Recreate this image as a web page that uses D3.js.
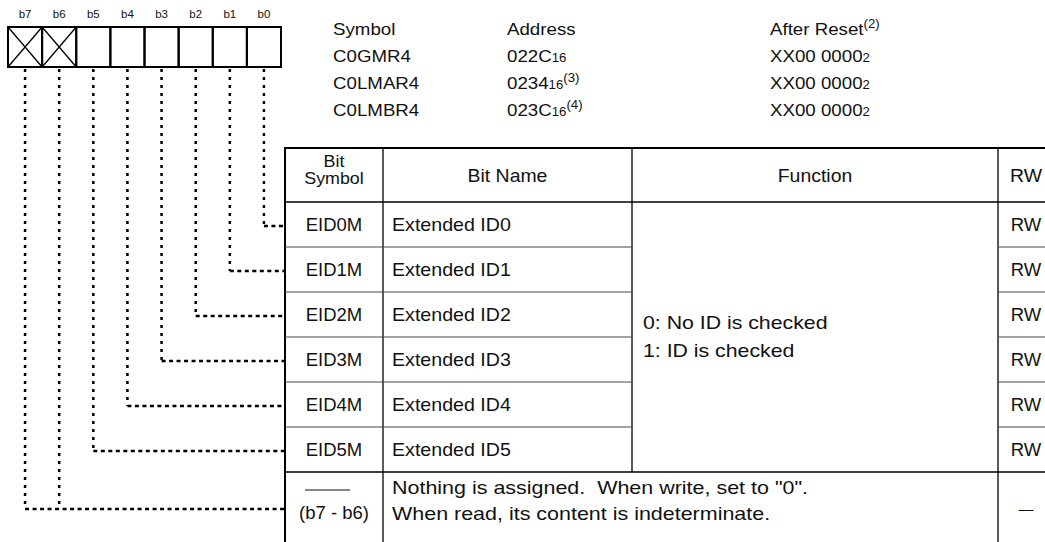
<!DOCTYPE html>
<html><head><meta charset="utf-8">
<script src="https://cdn.jsdelivr.net/npm/d3@7/dist/d3.min.js"></script>
<style>
html,body{margin:0;padding:0;background:#fff;}
svg{display:block;}
text{font-family:"Liberation Sans",Arial,sans-serif;fill:#111;white-space:pre;}
</style></head>
<body><svg id="c" width="1045" height="542"></svg>
<script>
// ---- data ----
const bitLabels = ["b7","b6","b5","b4","b3","b2","b1","b0"];
const reservedBits = ["b7","b6"];
const regSymbols = ["C0GMR4","C0LMAR4","C0LMBR4"];
const regAddrBase = ["022C","0234","023C"];
const regAddrNote = ["","(3)","(4)"];
const regReset = ["XX00 0000","XX00 0000","XX00 0000"];
const infoHeaders = ["Symbol","Address","After Reset"];
const tableHeaders = ["Bit Name","Function","RW"];
const bitSymbols = ["EID0M","EID1M","EID2M","EID3M","EID4M","EID5M"];
const bitOfRow = ["b0","b1","b2","b3","b4","b5"];
const bitNames = ["Extended ID0","Extended ID1","Extended ID2","Extended ID3","Extended ID4","Extended ID5"];
const rwValues = ["RW","RW","RW","RW","RW","RW"];
const functionLines = ["0: No ID is checked","1: ID is checked"];
const reservedSymbol = "(b7 - b6)";
const reservedText = ["Nothing is assigned.  When write, set to \"0\".","When read, its content is indeterminate."];
const reservedRW = "\u2014";

// ---- layout ----
const svg = d3.select("#c");
const xBit = d3.scaleBand().domain(bitLabels).range([8, 281]);
const boxTop = 27, boxBot = 67;
const rowIdx = d3.range(bitSymbols.length);
const yRow = d3.scaleBand().domain(rowIdx).range([202, 472]);
const tTop = 148, tHead = 202, tLast = 472, tBot = 542;
const cols = [285, 383, 632, 998, 1045];

// horizontal stretch helper (reference glyphs are a bit wider than Arial)
function stretch(sel, k) {
  sel.each(function() {
    const L = this.getComputedTextLength();
    d3.select(this).attr("textLength", L * k).attr("lengthAdjust", "spacingAndGlyphs");
  });
  return sel;
}

// bit labels
svg.append("g").selectAll("text").data(bitLabels).join("text")
  .attr("x", d => xBit(d) + xBit.bandwidth()/2).attr("y", 18)
  .attr("text-anchor","middle").attr("font-size", 11.5).text(d => d);

// bit boxes
const gb = svg.append("g").attr("stroke","#000").attr("fill","none");
gb.selectAll("rect").data(bitLabels).join("rect")
  .attr("x", d => xBit(d)).attr("y", boxTop)
  .attr("width", xBit.bandwidth()).attr("height", boxBot - boxTop)
  .attr("stroke-width", 2);
reservedBits.forEach(b => {
  const x0 = xBit(b), x1 = x0 + xBit.bandwidth();
  gb.append("line").attr("x1",x0).attr("y1",boxTop).attr("x2",x1).attr("y2",boxBot).attr("stroke-width",1.3);
  gb.append("line").attr("x1",x1).attr("y1",boxTop).attr("x2",x0).attr("y2",boxBot).attr("stroke-width",1.3);
});

// dashed leaders
const gl = svg.append("g").attr("stroke","#000").attr("fill","none").attr("stroke-width",2.5);
const bc = b => xBit(b) + xBit.bandwidth()/2;
bitOfRow.forEach((b, i) => {
  const y = yRow(i) + yRow.bandwidth()/2 + 1.5;
  gl.append("line").attr("x1",bc(b)).attr("y1",boxBot+2).attr("x2",bc(b)).attr("y2",y).attr("stroke-dasharray","3,5");
  gl.append("line").attr("x1",bc(b)).attr("y1",y).attr("x2",cols[0]).attr("y2",y).attr("stroke-dasharray","4,3.5");
});
const yRes = 509;
reservedBits.forEach(b => {
  gl.append("line").attr("x1",bc(b)).attr("y1",boxBot+2).attr("x2",bc(b)).attr("y2",yRes).attr("stroke-dasharray","3,5");
});
gl.append("line").attr("x1",bc(reservedBits[0])).attr("y1",yRes).attr("x2",cols[0]).attr("y2",yRes).attr("stroke-dasharray","4,3.5");

// info header block
const infoX = [333, 507, 770];
const infoY = [35, 62, 89, 116];
const gi = svg.append("g").attr("font-size", 17);
infoHeaders.forEach((h, j) => {
  const t = gi.append("text").attr("x", infoX[j]).attr("y", infoY[0]).text(h);
  if (j === 2) t.append("tspan").attr("font-size", 12).attr("dy", -7).text("(2)");
});
regSymbols.forEach((s, i) => {
  gi.append("text").attr("x", infoX[0]).attr("y", infoY[i+1]).text(s);
  const a = gi.append("text").attr("x", infoX[1]).attr("y", infoY[i+1]).text(regAddrBase[i]);
  a.append("tspan").attr("font-size", 12).text("16");
  if (regAddrNote[i]) a.append("tspan").attr("font-size", 12).attr("dy", -7).text(regAddrNote[i]);
  const r = gi.append("text").attr("x", infoX[2]).attr("y", infoY[i+1]).text(regReset[i]);
  r.append("tspan").attr("font-size", 12).text("2");
});
stretch(gi.selectAll("text"), 1.1);

// table lines
const gt = svg.append("g").attr("stroke","#000").attr("fill","none");
gt.append("line").attr("x1",cols[0]).attr("y1",tTop).attr("x2",cols[4]).attr("y2",tTop).attr("stroke-width",2);
gt.append("line").attr("x1",cols[0]).attr("y1",tTop-1).attr("x2",cols[0]).attr("y2",tBot).attr("stroke-width",2);
gt.append("line").attr("x1",cols[0]).attr("y1",tHead).attr("x2",cols[4]).attr("y2",tHead).attr("stroke-width",1.6);
gt.append("line").attr("x1",cols[1]).attr("y1",tTop).attr("x2",cols[1]).attr("y2",tBot).attr("stroke-width",1.3);
gt.append("line").attr("x1",cols[2]).attr("y1",tTop).attr("x2",cols[2]).attr("y2",tLast).attr("stroke-width",1.3);
gt.append("line").attr("x1",cols[3]).attr("y1",tTop).attr("x2",cols[3]).attr("y2",tBot).attr("stroke-width",1.3);
rowIdx.slice(1).forEach(i => {
  gt.append("line").attr("x1",cols[0]).attr("y1",yRow(i)).attr("x2",cols[2]).attr("y2",yRow(i)).attr("stroke-width",1).attr("stroke","#444");
  gt.append("line").attr("x1",cols[3]).attr("y1",yRow(i)).attr("x2",cols[4]).attr("y2",yRow(i)).attr("stroke-width",1).attr("stroke","#444");
});
gt.append("line").attr("x1",cols[0]).attr("y1",tLast).attr("x2",cols[4]).attr("y2",tLast).attr("stroke-width",1.3);

// table header text
const fs = 18.5;
const gh = svg.append("g").attr("font-size", fs);
const c1 = (cols[0]+cols[1])/2;
gh.append("text").attr("x", c1).attr("y", 167).attr("text-anchor","middle").attr("font-size",17).text("Bit");
gh.append("text").attr("x", c1).attr("y", 184).attr("text-anchor","middle").attr("font-size",17).text("Symbol");
gh.append("text").attr("x", (cols[1]+cols[2])/2).attr("y", 182).attr("text-anchor","middle").text(tableHeaders[0]);
gh.append("text").attr("x", (cols[2]+cols[3])/2).attr("y", 182).attr("text-anchor","middle").text(tableHeaders[1]);
gh.append("text").attr("x", 1026).attr("y", 182).attr("text-anchor","middle").text(tableHeaders[2]);
stretch(gh.selectAll("text"), 1.05);

// table rows
const gr = svg.append("g").attr("font-size", fs);
const rowMid = i => yRow(i) + yRow.bandwidth()/2 + 6.5;
gr.selectAll(".sym").data(bitSymbols).join("text").attr("class","sym")
  .attr("x", c1).attr("y", (d,i) => rowMid(i)).attr("text-anchor","middle").text(d => d);
stretch(gr.selectAll(".nm").data(bitNames).join("text").attr("class","nm")
  .attr("x", cols[1] + 9).attr("y", (d,i) => rowMid(i)).text(d => d), 1.06);
gr.selectAll(".rw").data(rwValues).join("text").attr("class","rw")
  .attr("x", 1026).attr("y", (d,i) => rowMid(i)).attr("text-anchor","middle").text(d => d);
stretch(gr.selectAll(".fn").data(functionLines).join("text").attr("class","fn")
  .attr("x", 643).attr("y", (d,k) => 329 + k*28).text(d => d), 1.15);

// reserved row
gr.append("line").attr("x1", 305).attr("y1", 490).attr("x2", 350).attr("y2", 490).attr("stroke","#111").attr("stroke-width",1.2);
gr.append("text").attr("x", c1).attr("y", 519).attr("text-anchor","middle").text(reservedSymbol);
stretch(gr.selectAll(".rs").data(reservedText).join("text").attr("class","rs")
  .attr("x", cols[1] + 9).attr("y", (d,k) => 494 + k*26).text(d => d), 1.16);
gr.append("text").attr("x", 1026).attr("y", 514).attr("text-anchor","middle").attr("font-size",15).text(reservedRW);
</script></body></html>
